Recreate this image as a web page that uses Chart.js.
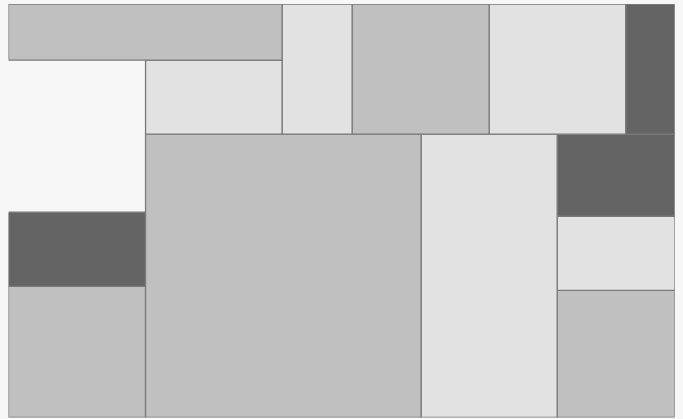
<!DOCTYPE html>
<html>
<head>
<meta charset="utf-8">
<script src="https://cdn.jsdelivr.net/npm/chart.js@4/dist/chart.umd.min.js"></script>
<style>
    html, body { margin: 0; padding: 0; background: #f7f7f7; }
    #wrap { position: relative; width: 683px; height: 419px; }
</style>
</head>
<body>
<div id="wrap"><canvas id="blockChart"></canvas></div>
<script>
// Block edges (x grows right, y grows down)
const blockX0 = [0,     137,   273.5, 343.5, 480.5, 617, 137,   412.5, 548.5, 548.5, 548.5, 0,   0];
const blockX1 = [273.5, 273.5, 343.5, 480.5, 617,   666, 412.5, 548.5, 666,   666,   666,   137, 137];
const blockY0 = [0,     56,    0,     0,     0,     0,   130,   130,   130,   212,   286,   208, 282];
const blockY1 = [56,    130,   130,   130,   130,   130, 413,   413,   212,   286,   413,   282, 413];
const blockShade = ['mid', 'light', 'light', 'mid', 'light', 'dark', 'mid', 'light', 'dark', 'light', 'mid', 'dark', 'mid'];

const shadeColors = { light: '#e2e2e2', mid: '#c0c0c0', dark: '#646464' };

const ctx = document.getElementById('blockChart').getContext('2d');

function buildDatasets() {
    return blockX0.map((x0, i) => {
        const x1 = blockX1[i], y0 = blockY0[i], y1 = blockY1[i];
        return {
            data: [
                { x: x0, y: y0 }, { x: x1, y: y0 },
                { x: x1, y: y1 }, { x: x0, y: y1 },
                { x: x0, y: y0 }
            ],
            showLine: true,
            fill: 'shape',
            backgroundColor: shadeColors[blockShade[i]],
            borderColor: '#7a7a7a',
            borderWidth: 1.3,
            pointRadius: 0,
            tension: 0
        };
    });
}

new Chart(ctx, {
    type: 'scatter',
    data: { datasets: buildDatasets() },
    options: {
        responsive: true,
        maintainAspectRatio: false,
        animation: false,
        layout: { padding: { left: 8.5, right: 8.3, top: 4, bottom: 1.5 } },
        plugins: { legend: { display: false }, tooltip: { enabled: false } },
        scales: {
            x: { type: 'linear', display: false, min: 0, max: 666 },
            y: { type: 'linear', display: false, min: 0, max: 413, reverse: true }
        }
    }
});
</script>
</body>
</html>
